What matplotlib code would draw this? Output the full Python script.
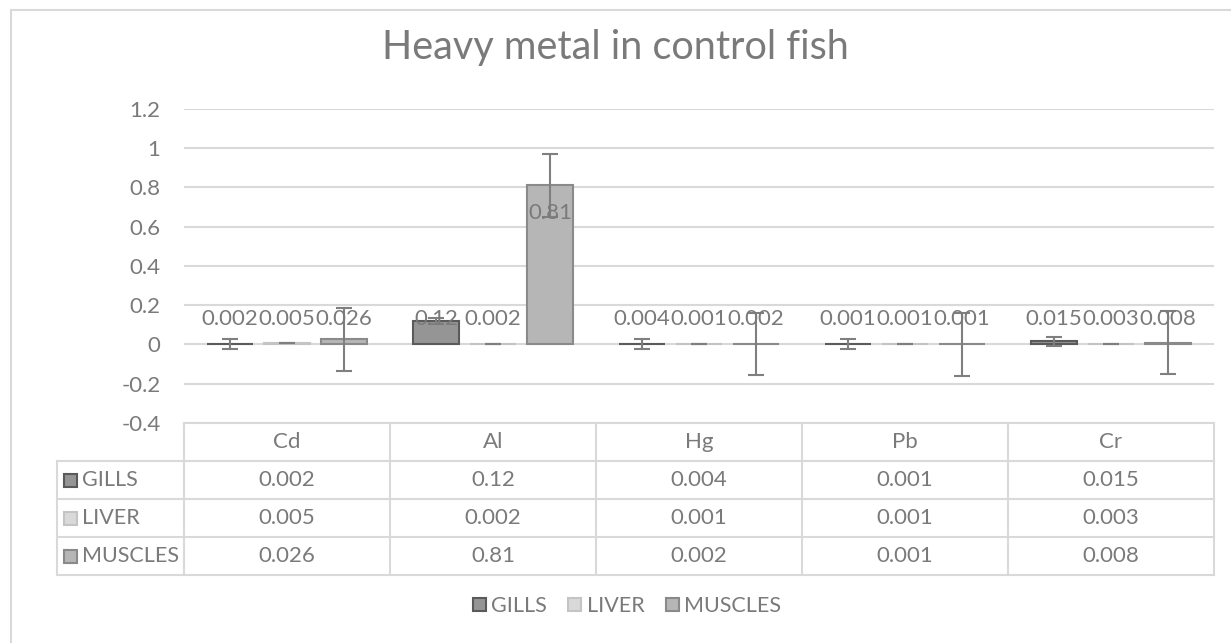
import matplotlib.pyplot as plt
import numpy as np
from matplotlib.lines import Line2D
from matplotlib.patches import Rectangle
from matplotlib.transforms import blended_transform_factory

plt.rcParams['font.family'] = ['Lato', 'DejaVu Sans']

metals = ['Cd', 'Al', 'Hg', 'Pb', 'Cr']
tissues = ['GILLS', 'LIVER', 'MUSCLES']
gills = [0.002, 0.12, 0.004, 0.001, 0.015]
liver = [0.005, 0.002, 0.001, 0.001, 0.003]
muscles = [0.026, 0.81, 0.002, 0.001, 0.008]
gills_err = [0.025, 0.015, 0.025, 0.024, 0.022]
liver_err = [0, 0, 0, 0, 0]
muscles_err = [0.16, 0.16, 0.16, 0.16, 0.16]
y_ticks = [-0.4, -0.2, 0, 0.2, 0.4, 0.6, 0.8, 1, 1.2]

values = [gills, liver, muscles]
errors = [gills_err, liver_err, muscles_err]
fills = ['#959595', '#d9d9d9', '#b6b6b6']
edges = ['#5a5a5a', '#c4c4c4', '#8a8a8a']
txt = '#7a7a7a'
grid = '#d9d9d9'

W, H = 1231, 643
fig = plt.figure(figsize=(W / 100, H / 100), dpi=100)

def fx(px):
    return px / W

def fy(py):
    return 1 - py / H

# plot area
ax = fig.add_axes([fx(184), fy(423), fx(1214) - fx(184), fy(108.6) - fy(423)])
x = np.arange(len(metals))
step = 0.277
width = 0.225
for i, name in enumerate(tissues):
    pos = x + (i - 1) * step
    ax.bar(pos, values[i], width, color=fills[i], edgecolor=edges[i], linewidth=1.5,
           label=name, zorder=3)
    ax.errorbar(pos, values[i], yerr=errors[i], fmt='none', ecolor='#7f7f7f',
                elinewidth=1.5, capsize=5.5, capthick=1.5, zorder=4)
    for p, v in zip(pos, values[i]):
        ax.text(p, max(v - 0.14, 0.13), '{:g}'.format(v), ha='center', va='center',
                fontsize=16, color=txt, zorder=5)

ax.set_xlim(-0.5, len(metals) - 0.5)
ax.set_ylim(-0.4, 1.2)
ax.set_yticks(y_ticks)
ax.set_yticklabels(['{:g}'.format(t) for t in y_ticks])
ax.tick_params(axis='y', length=0, pad=17, labelsize=16, labelcolor=txt)
ax.set_xticks([])
for s in ax.spines.values():
    s.set_visible(False)
ax.grid(axis='y', color=grid, linewidth=1.5, zorder=0)

# title
fig.text(0.5, fy(47), 'Heavy metal in control fish', ha='center', va='center',
         fontsize=28.5, color=txt)

# data table under the plot
rows = [423, 461, 499, 537, 575]
col_edges = np.arange(len(metals) + 1) - 0.5
tr = blended_transform_factory(ax.transData, fig.transFigure)
lw = 1.5
# horizontal lines
fig.add_artist(Line2D([fx(184), fx(1214)], [fy(rows[0])] * 2, color=grid, lw=lw))
for r in rows[1:]:
    fig.add_artist(Line2D([fx(57), fx(1214)], [fy(r)] * 2, color=grid, lw=lw))
# vertical lines
for c in col_edges:
    fig.add_artist(Line2D([c, c], [fy(rows[0]), fy(rows[-1])], color=grid, lw=lw,
                          transform=tr))
fig.add_artist(Line2D([fx(57), fx(57)], [fy(rows[1]), fy(rows[-1])], color=grid, lw=lw))

for j, m in enumerate(metals):
    fig.text(j, fy((rows[0] + rows[1]) / 2), m, transform=tr, ha='center', va='center',
             fontsize=16, color=txt)
for i, name in enumerate(tissues):
    yc = fy((rows[i + 1] + rows[i + 2]) / 2)
    fig.add_artist(Rectangle((fx(64), yc - 6.5 / H), 13 / W, 13 / H,
                             facecolor=fills[i], edgecolor=edges[i], lw=1.5))
    fig.text(fx(82), yc, name, ha='left', va='center', fontsize=15.5, color=txt)
    for j, v in enumerate(values[i]):
        fig.text(j, yc, '{:g}'.format(v), transform=tr, ha='center', va='center',
                 fontsize=16, color=txt)

# legend
fig.legend(loc='center', bbox_to_anchor=(fx(627), fy(606)), ncol=3, frameon=False,
           fontsize=15.5, labelcolor=txt, handlelength=0.6, handleheight=0.6,
           handletextpad=0.25, columnspacing=1.0)

# chart frame
fig.add_artist(Rectangle((fx(11), fy(H + 5)), fx(W + 5) - fx(11), fy(10) - fy(H + 5),
                         fill=False, edgecolor=grid, lw=1.5))

fig.savefig('out.png', dpi=100)
